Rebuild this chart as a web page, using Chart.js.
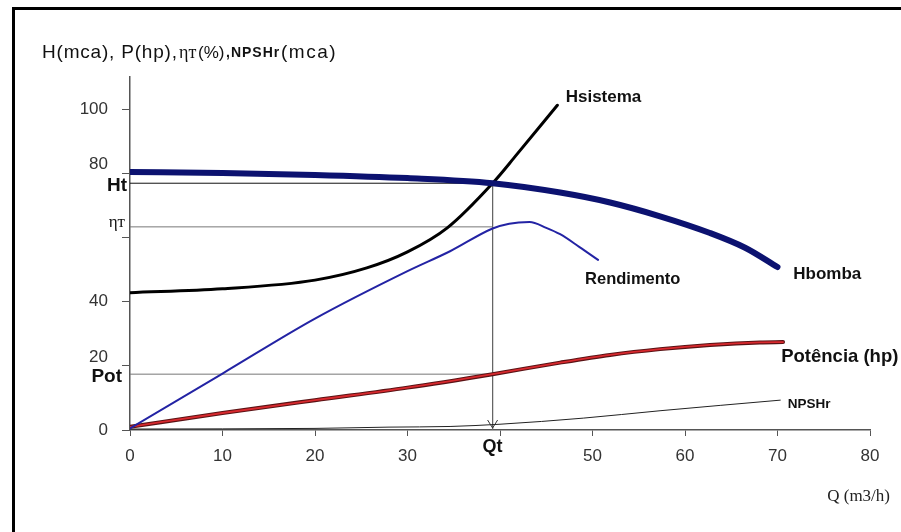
<!DOCTYPE html>
<html>
<head>
<meta charset="utf-8">
<script src="https://cdn.jsdelivr.net/npm/chart.js@4.4.0/dist/chart.umd.min.js"></script>
<style>
  html, body { margin: 0; padding: 0; background: #fff; }
  #wrap { position: relative; width: 901px; height: 532px; overflow: hidden; }
  #frame { position: absolute; left: 12px; top: 7px; right: -5px; bottom: -5px;
           border-left: 3px solid #000; border-top: 3px solid #000; pointer-events: none; }
  canvas { position: absolute; left: 0; top: 0; }
</style>
</head>
<body>
<div id="wrap">
  <canvas id="chart" width="901" height="532"></canvas>
  <div id="frame"></div>
</div>
<script>
// operating point (Qt, Ht, eta_t, Pot)
const QT = 39.2;
const HT = 76.9;
const ETA_T = 63.3;
const POT = 17.4;

const xTicks = [0, 10, 20, 30, 40, 50, 60, 70, 80];
const yTicks = [0, 20, 40, 60, 80, 100];

// pump curve
const hbombaQ = [0, 10, 20, 30, 39.2, 46.5, 51.9, 57.3, 62.7, 66.5, 70];
const hbombaH = [80.4, 80.1, 79.5, 78.5, 76.9, 74.0, 70.9, 66.6, 61.4, 56.8, 50.8];

// system curve
const hsistQ = [0, 10, 20, 25.6, 30, 34.3, 39.2, 41.8, 46.2];
const hsistH = [42.8, 44, 46.7, 50.5, 55.5, 63, 76.9, 85.8, 101.2];

// efficiency
const rendQ = [0, 10, 20, 30, 34.6, 39.2, 41, 43.2, 45, 46.5, 48.6, 50.6];
const rendE = [0.5, 17.6, 34.7, 49.5, 55.7, 62.8, 64.3, 64.8, 63, 61, 57, 53];

// power
const potQ = [0, 10, 20, 30, 39.2, 46.5, 51.9, 57.3, 62.7, 68.1, 70.6];
const potP = [1, 5.3, 9.3, 13.2, 17.4, 21, 23.4, 25.2, 26.5, 27.3, 27.4];

// NPSH required
const npshQ = [0, 20, 28, 34.6, 40, 49, 57.3, 70.3];
const npshN = [0.3, 0.5, 0.9, 1.1, 1.8, 3.7, 6, 9.3];

const zip = (xs, ys) => xs.map((x, i) => ({ x: x, y: ys[i] }));

Chart.defaults.font.family = 'Arial, "Liberation Sans", sans-serif';
const SANS = 'Arial, "Liberation Sans", sans-serif';
const SERIF = '"Times New Roman", "Liberation Serif", serif';

// curve names, anchored in data units (left / middle of text)
const curveLabels = [
  { text: 'Hsistema', q: 47.1, v: 103.7, font: 'bold 17px ' + SANS },
  { text: 'Rendimento', q: 49.2, v: 47, font: 'bold 16.5px ' + SANS },
  { text: 'Hbomba', q: 71.7, v: 48.6, font: 'bold 17px ' + SANS },
  { text: 'Potência (hp)', q: 70.4, v: 22.7, font: 'bold 18.5px ' + SANS },
  { text: 'NPSHr', q: 71.1, v: 8.1, font: 'bold 13.5px ' + SANS }
];

// title pieces: text, font, left x, letter spacing
const titleParts = [
  ['H(mca), P(hp),', '19px ' + SANS, 42, '0.8px'],
  ['ηт', '18px ' + SERIF, 179, '0px'],
  ['(%)', '17px ' + SANS, 198, '0px'],
  [',NPSHr', 'bold 14px ' + SANS, 226, '1px'],
  ['(mca)', '19px ' + SANS, 281, '1.5px']
];

const extras = {
  id: 'extras',
  afterDraw(chart) {
    const c = chart.ctx, x = chart.scales.x, y = chart.scales.y, area = chart.chartArea;
    c.save();
    c.fillStyle = '#111';
    c.textBaseline = 'middle';

    // title
    c.textAlign = 'left';
    titleParts.forEach(p => {
      c.font = p[1];
      c.letterSpacing = p[3];
      c.fillText(p[0], p[2], 53);
    });
    c.letterSpacing = '0px';

    // operating point labels on the y axis
    c.textAlign = 'right';
    c.font = 'bold 19px ' + SANS;
    c.fillText('Ht', area.left - 3, y.getPixelForValue(HT) + 3);
    c.fillText('Pot', area.left - 8, y.getPixelForValue(POT) + 3);
    c.font = '17px ' + SERIF;
    c.fillText('ηт', area.left - 5, y.getPixelForValue(ETA_T) - 4);

    // arrow head at Qt
    const ax = x.getPixelForValue(QT), ay = y.getPixelForValue(0) - 2;
    c.strokeStyle = '#333';
    c.lineWidth = 1;
    c.beginPath();
    c.moveTo(ax - 5, ay - 8);
    c.lineTo(ax, ay);
    c.lineTo(ax + 5, ay - 8);
    c.stroke();

    // curve names
    c.textAlign = 'left';
    curveLabels.forEach(l => {
      c.font = l.font;
      c.fillText(l.text, x.getPixelForValue(l.q), y.getPixelForValue(l.v));
    });

    // x axis title
    c.textAlign = 'right';
    c.fillStyle = '#222';
    c.font = '17px ' + SERIF;
    c.fillText('Q (m3/h)', 890, 497);
    c.restore();
  }
};

const curve = (data, color, width, order) => ({
  data: data, showLine: true, borderColor: color, borderWidth: width,
  pointRadius: 0, cubicInterpolationMode: 'monotone', order: order,
  borderCapStyle: 'round', borderJoinStyle: 'round'
});
const refLine = (data, color, order) => ({
  data: data, showLine: true, borderColor: color, borderWidth: 1,
  pointRadius: 0, tension: 0, order: order
});

new Chart(document.getElementById('chart'), {
  type: 'scatter',
  data: {
    datasets: [
      refLine([{ x: 0, y: HT }, { x: QT, y: HT }], '#111', 10),
      refLine([{ x: 0, y: ETA_T }, { x: QT, y: ETA_T }], '#777', 10),
      refLine([{ x: 0, y: POT }, { x: QT, y: POT }], '#777', 10),
      refLine([{ x: QT, y: HT }, { x: QT, y: 0 }], '#666', 10),
      curve(zip(npshQ, npshN), '#222', 1, 8),
      curve(zip(potQ, potP), '#5a1214', 4, 7),
      curve(zip(potQ, potP), '#d8292e', 1.8, 6),
      curve(zip(rendQ, rendE), '#2323a4', 2, 5),
      curve(zip(hsistQ, hsistH), '#000', 3, 4),
      curve(zip(hbombaQ, hbombaH), '#0c1270', 6, 3)
    ]
  },
  options: {
    responsive: false,
    animation: false,
    events: [],
    layout: { padding: { left: 0, right: 31, top: 77, bottom: 0 } },
    plugins: {
      legend: { display: false },
      tooltip: { enabled: false }
    },
    scales: {
      x: {
        type: 'linear',
        min: 0,
        max: 80,
        afterBuildTicks: (scale) => { scale.ticks = xTicks.concat([QT]).map(v => ({ value: v })); },
        afterFit: (scale) => { scale.height = 102; },
        border: { color: '#555', width: 1.5 },
        grid: {
          drawOnChartArea: false,
          tickLength: 6,
          tickColor: (ctx) => (ctx.tick && ctx.tick.value === QT) ? 'rgba(0,0,0,0)' : '#555'
        },
        ticks: {
          autoSkip: false,
          maxRotation: 0,
          padding: 10,
          color: (ctx) => (ctx.tick && ctx.tick.value === QT) ? '#111' : '#333',
          font: (ctx) => (ctx.tick && ctx.tick.value === QT)
            ? { size: 18, weight: 'bold', lineHeight: 0.15 }
            : { size: 17 },
          callback: (v) => v === QT ? 'Qt' : (v === 40 ? '' : v)
        }
      },
      y: {
        type: 'linear',
        min: 0,
        max: 110,
        afterBuildTicks: (scale) => { scale.ticks = yTicks.map(v => ({ value: v })); },
        afterFit: (scale) => { scale.width = 130; },
        border: { color: '#555', width: 1.5 },
        grid: { drawOnChartArea: false, tickLength: 8, tickColor: '#555' },
        ticks: {
          autoSkip: false,
          padding: 14,
          color: '#333',
          font: (ctx) => (ctx.tick && (ctx.tick.value === 80 || ctx.tick.value === 20))
            ? { size: 17, lineHeight: 1.0 }
            : { size: 17 },
          callback: (v) => v === 60 ? '' : ((v === 80 || v === 20) ? [String(v), ''] : v)
        }
      }
    }
  },
  plugins: [extras]
});
</script>
</body>
</html>
